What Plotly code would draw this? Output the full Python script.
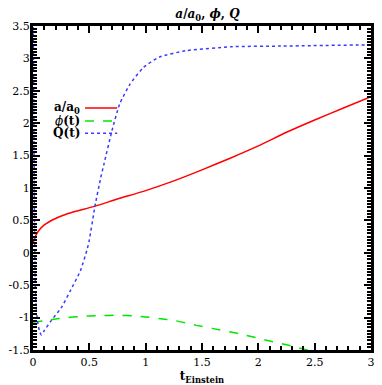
import plotly.graph_objects as go

t_a = [0.0, 0.02, 0.05, 0.1, 0.2, 0.3, 0.4, 0.55, 0.75, 1.0, 1.25, 1.5, 1.75, 2.0, 2.25, 2.5, 2.75, 3.0]
a_vals = [0.15, 0.25, 0.34, 0.43, 0.53, 0.6, 0.65, 0.72, 0.83, 0.96, 1.11, 1.28, 1.46, 1.65, 1.86, 2.05, 2.23, 2.41]

t_phi = [0.0, 0.1, 0.2, 0.3, 0.4, 0.5, 0.6, 0.75, 0.9, 1.0, 1.1, 1.27, 1.45, 1.6, 1.86, 2.1, 2.3, 2.45]
phi_vals = [-1.07, -1.05, -1.02, -1.0, -0.985, -0.975, -0.97, -0.965, -0.975, -0.99, -1.01, -1.05, -1.12, -1.17, -1.26, -1.36, -1.44, -1.51]

t_q = [0.0, 0.004, 0.008, 0.012, 0.016, 0.022, 0.03, 0.044, 0.06, 0.075, 0.1, 0.16, 0.25, 0.33, 0.42, 0.48, 0.5, 0.55, 0.6, 0.63, 0.7, 0.77, 0.86, 0.98, 1.12, 1.36, 1.77, 2.2, 3.0]
q_vals = [4.5, 3.0, 1.8, 0.8, 0.0, -0.6, -0.9, -1.1, -1.22, -1.27, -1.2, -1.05, -0.85, -0.59, -0.28, 0.05, 0.2, 0.72, 1.15, 1.37, 1.88, 2.3, 2.6, 2.86, 3.02, 3.12, 3.18, 3.19, 3.21]

x_ticks = [0, 0.5, 1, 1.5, 2, 2.5, 3]
x_tick_labels = ["0", "0.5", "1", "1.5", "2", "2.5", "3"]
y_ticks = [-1.5, -1, -0.5, 0, 0.5, 1, 1.5, 2, 2.5, 3, 3.5]
y_tick_labels = ["-1.5", "-1", "-0.5", "0", "0.5", "1", "1.5", "2", "2.5", "3", "3.5"]

RED = "#ff0000"
GREEN = "#00e600"
BLUE = "#3a3aff"
FONT = "DejaVu Serif"

fig = go.Figure()
fig.add_trace(go.Scatter(x=t_a, y=a_vals, mode="lines", line=dict(color=RED, width=1.5, shape="spline", smoothing=0.5), showlegend=False))
fig.add_trace(go.Scatter(x=t_phi, y=phi_vals, mode="lines", line=dict(color=GREEN, width=1.5, dash="dash", shape="spline", smoothing=0.5), showlegend=False))
fig.add_trace(go.Scatter(x=t_q, y=q_vals, mode="lines", line=dict(color=BLUE, width=1.5, dash="dot", shape="spline", smoothing=0.5), showlegend=False))

axis_common = dict(
    showgrid=False, zeroline=False, showline=True, linecolor="black", linewidth=3,
    mirror="allticks", ticks="inside", ticklen=7, tickwidth=2, tickcolor="black",
    tickfont=dict(family=FONT, size=11, color="black"), automargin=False,
    ticklabeloverflow="allow",
)
fig.update_xaxes(range=[0, 3], tickvals=x_ticks, ticktext=x_tick_labels,
                 minor=dict(dtick=0.1, ticks="inside", ticklen=4, tickwidth=2, tickcolor="black"),
                 title=dict(text="<b>t<sub>Einstein</sub></b>", font=dict(family=FONT, size=12, color="black"), standoff=4),
                 **axis_common)
fig.update_yaxes(range=[-1.5, 3.5], tickvals=y_ticks, ticktext=y_tick_labels, ticklabelstandoff=-2,
                 minor=dict(dtick=0.05, ticks="inside", ticklen=4, tickwidth=2, tickcolor="black"),
                 **axis_common)

# manual gnuplot-style legend (text on the left, sample on the right)
legend_items = [("<b>a/a<sub>0</sub></b>", RED, "solid", 0.747),
                ("<i>ϕ</i><b>(t)</b>", GREEN, "dash", 0.707),
                ("<b>Q(t)</b>", BLUE, "dot", 0.669)]
for text, color, dash, yy in legend_items:
    fig.add_annotation(xref="paper", yref="paper", x=0.145, y=yy, text=text, showarrow=False,
                       xanchor="right", yanchor="middle", font=dict(family=FONT, size=12, color="black"))
    fig.add_shape(type="line", xref="paper", yref="paper", x0=0.154, x1=0.249, y0=yy, y1=yy,
                  line=dict(color=color, width=1.5, dash=dash))

# page body has an 8px default margin and the visible width is that of the body,
# so the figure is sized/offset to fit inside it
fig.update_layout(
    width=366, height=377,
    margin=dict(l=25, r=3, t=18, b=35),
    paper_bgcolor="white", plot_bgcolor="white",
    title=dict(text="<b><i>a</i>/<i>a</i><sub>0</sub>, <i>ϕ</i>, <i>Q</i></b>", x=0.545, xanchor="center", y=0.995, yanchor="top",
               font=dict(family=FONT, size=12, color="black")),
    font=dict(family=FONT, color="black"),
)

fig.write_html("out.html")
